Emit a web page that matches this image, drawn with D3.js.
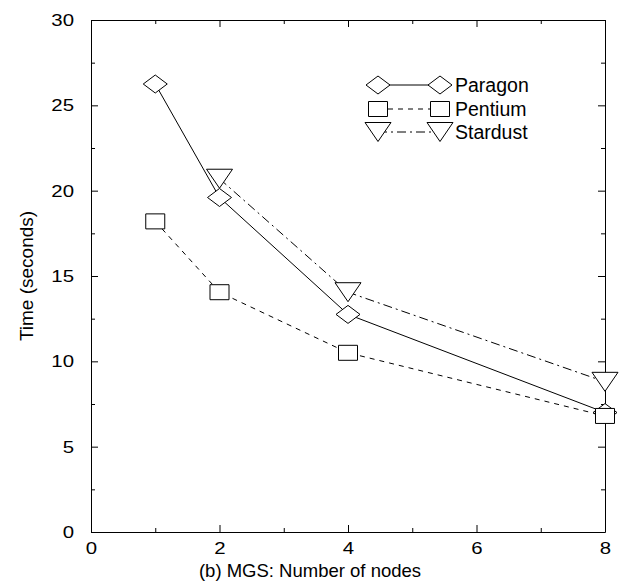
<!DOCTYPE html>
<meta charset="utf-8">
<head>
<title>MGS timing</title>
</head>
<style>
html, body { margin: 0; background: #fff; }
text { font-family: "Liberation Sans", Arial, Helvetica, sans-serif; fill: #000; }
.axis path, .axis line { stroke: #000; stroke-width: 1px; }
.series path.line { fill: none; stroke: #000; stroke-width: 1px; }
.marker { fill: #fff; stroke: #000; stroke-width: 1px; }
</style>
<body>
<script src="https://d3js.org/d3.v7.min.js"></script>
<script>

// data
var nodes = [1, 2, 4, 8];
var paragon = [26.25, 19.6, 12.75, 7.0];
var pentium = [18.2, 14.05, 10.5, 6.8];
var stardustNodes = [2, 4, 8];
var stardust = [20.7, 14.05, 8.8];

var xTicks = [0, 2, 4, 6, 8];
var xMinor = [1, 3, 5, 7];
var yTicks = [0, 5, 10, 15, 20, 25, 30];
var yMinor = [2.5, 7.5, 12.5, 17.5, 22.5, 27.5];

var W = 620, H = 586;
var margin = {top: 20, right: 15, bottom: 54, left: 91};
var width = W - margin.left - margin.right,
    height = H - margin.top - margin.bottom;

var svg = d3.select("body").append("svg")
    .attr("width", W).attr("height", H);

var g = svg.append("g")
    .attr("transform", "translate(" + margin.left + "," + margin.top + ")");

var x = d3.scaleLinear().domain([0, 8]).range([0, width]);
var y = d3.scaleLinear().domain([0, 30]).range([height, 0]);

// axes, ticks pointing inward on all four sides
g.append("g").attr("class", "axis")
    .attr("transform", "translate(0," + height + ")")
    .call(d3.axisBottom(x).tickValues(xTicks).tickSizeInner(-7).tickSizeOuter(0).tickPadding(10))
    .selectAll("text")
    .style("font-size", "17px")
    .attr("transform", "scale(1.2,1)");

g.append("g").attr("class", "axis minor")
    .attr("transform", "translate(0," + height + ")")
    .call(d3.axisBottom(x).tickValues(xMinor).tickSize(-4).tickFormat(""))
    .select(".domain").remove();

g.append("g").attr("class", "axis")
    .call(d3.axisTop(x).tickValues(xTicks).tickSizeInner(-7).tickSizeOuter(0).tickFormat(""));
g.append("g").attr("class", "axis minor")
    .call(d3.axisTop(x).tickValues(xMinor).tickSize(-4).tickFormat(""))
    .select(".domain").remove();

// the original digits are drawn a little wide
g.append("g").attr("class", "axis")
    .call(d3.axisLeft(y).tickValues(yTicks).tickSizeInner(-7).tickSizeOuter(0).tickPadding(17))
    .selectAll("text")
    .style("font-size", "17px")
    .attr("x", 0)
    .attr("transform", "translate(-17,0) scale(1.2,1)");
g.append("g").attr("class", "axis minor")
    .call(d3.axisLeft(y).tickValues(yMinor).tickSize(-4).tickFormat(""))
    .select(".domain").remove();

g.append("g").attr("class", "axis")
    .attr("transform", "translate(" + width + ",0)")
    .call(d3.axisRight(y).tickValues(yTicks).tickSizeInner(-7).tickSizeOuter(0).tickFormat(""));
g.append("g").attr("class", "axis minor")
    .attr("transform", "translate(" + width + ",0)")
    .call(d3.axisRight(y).tickValues(yMinor).tickSize(-4).tickFormat(""))
    .select(".domain").remove();

g.selectAll(".axis text").attr("fill", "#000");

// axis titles
svg.append("text")
    .attr("x", W / 2).attr("y", 577)
    .attr("text-anchor", "middle")
    .style("font-size", "18.5px")
    .text("(b) MGS: Number of nodes");

svg.append("text")
    .attr("transform", "translate(33," + (margin.top + height / 2) + ") rotate(-90)")
    .attr("text-anchor", "middle")
    .style("font-size", "19px")
    .text("Time (seconds)");

// marker shapes (a bit wider than tall, like the original)
function diamond(cx, cy) {
    return "M" + (cx - 12) + "," + cy + "L" + cx + "," + (cy - 9) +
           "L" + (cx + 12) + "," + cy + "L" + cx + "," + (cy + 9) + "Z";
}
function square(cx, cy) {
    return "M" + (cx - 9.5) + "," + (cy - 7.5) + "h19v15h-19Z";
}
function triDown(cx, cy) {
    return "M" + (cx - 13) + "," + (cy - 9.5) + "L" + (cx + 13) + "," + (cy - 9.5) +
           "L" + cx + "," + (cy + 9.5) + "Z";
}

var series = [
    {name: "Stardust", xs: stardustNodes, ys: stardust, shape: triDown, dash: "9,4,2,4"},
    {name: "Paragon", xs: nodes, ys: paragon, shape: diamond, dash: null},
    {name: "Pentium", xs: nodes, ys: pentium, shape: square, dash: "5,5"}
];

var line = d3.line()
    .x(function (d) { return x(d[0]); })
    .y(function (d) { return y(d[1]); });

series.forEach(function (s) {
    var pts = s.xs.map(function (v, i) { return [v, s.ys[i]]; });
    var sg = g.append("g").attr("class", "series");
    sg.append("path").attr("class", "line")
        .attr("d", line(pts))
        .attr("stroke-dasharray", s.dash);
    sg.selectAll("path.marker")
        .data(pts)
        .enter().append("path")
        .attr("class", "marker")
        .attr("d", function (d) { return s.shape(x(d[0]), y(d[1])); });
});

// legend
var legendOrder = ["Paragon", "Pentium", "Stardust"];
var legendY = [85, 109, 132];
legendOrder.forEach(function (name, i) {
    var s = series.filter(function (d) { return d.name === name; })[0];
    var lg = svg.append("g").attr("class", "series");
    var ly = legendY[i];
    lg.append("path").attr("class", "line")
        .attr("d", "M378," + ly + "L440," + ly)
        .attr("stroke-dasharray", s.dash);
    lg.append("path").attr("class", "marker").attr("d", s.shape(378, ly));
    lg.append("path").attr("class", "marker").attr("d", s.shape(440, ly));
    lg.append("text")
        .attr("x", 455).attr("y", ly).attr("dy", "0.35em")
        .style("font-size", "19.5px")
        .text(name);
});

</script>
</body>
